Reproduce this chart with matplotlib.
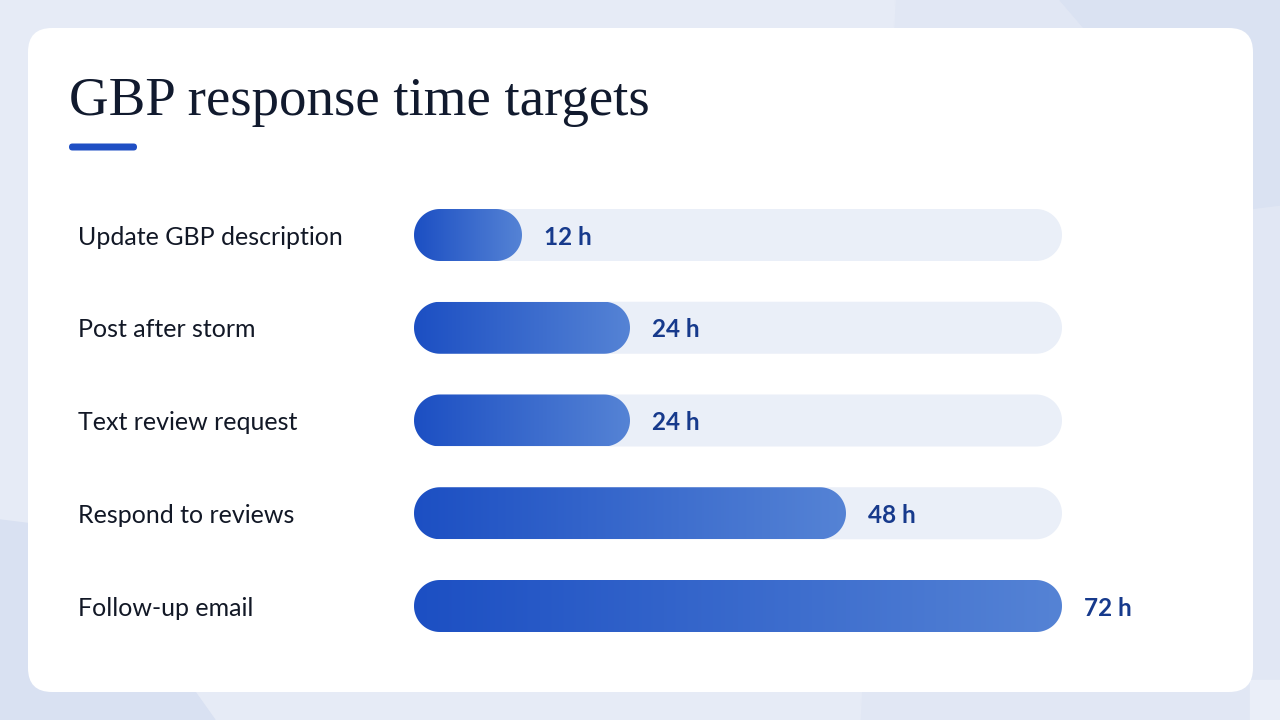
import matplotlib.pyplot as plt
import numpy as np
from matplotlib.patches import FancyBboxPatch, Polygon
from matplotlib.colors import LinearSegmentedColormap
from matplotlib.transforms import blended_transform_factory

# data
tasks = ["Update GBP description", "Post after storm", "Text review request",
         "Respond to reviews", "Follow-up email"]
hours = [12, 24, 24, 48, 72]
max_hours = 72
title = "GBP response time targets"


def pill(x_end, yc, h, **kw):
    # capsule from 0 to x_end, with true semicircle ends (axes use equal units)
    r = h / 2
    a = np.linspace(-np.pi / 2, np.pi / 2, 40)
    right = np.column_stack([x_end - r + r * np.cos(a), yc + r * np.sin(a)])
    left = np.column_stack([r - r * np.cos(a), yc - r * np.sin(a)])
    return Polygon(np.vstack([right, left]), closed=True, **kw)


W, H = 1280, 720
fig = plt.figure(figsize=(W / 100, H / 100), dpi=100)

# background + card, in pixel coords
bg = fig.add_axes([0, 0, 1, 1])
bg.set_xlim(0, W)
bg.set_ylim(H, 0)
bg.axis("off")
bg.add_patch(plt.Rectangle((0, 0), W, H, color="#e1e7f4", zorder=0))
bg.add_patch(Polygon([(0, 0), (895, 0), (860, 720), (0, 720)], closed=True,
                     color="#e6ebf6", zorder=0.5))
bg.add_patch(Polygon([(0, 520), (80, 530), (215, 720), (0, 720)], closed=True,
                     color="#d9e1f2", zorder=0.6))
bg.add_patch(Polygon([(1060, 0), (1280, 0), (1280, 205), (1240, 210)], closed=True,
                     color="#dae2f2", zorder=0.6))
bg.add_patch(Polygon([(1250, 680), (1280, 680), (1280, 720), (1250, 720)], closed=True,
                     color="#eaeef8", zorder=0.6))
bg.add_patch(FancyBboxPatch((28, 28), 1225, 664,
                            boxstyle="round,pad=0,rounding_size=24",
                            fc="white", ec="none", zorder=1))
bg.text(69, 115, title, fontsize=39.5, family="Liberation Serif",
        color="#111a2e", va="baseline", ha="left", zorder=2)
bg.add_patch(FancyBboxPatch((69, 143.5), 68, 7,
                            boxstyle="round,pad=0,rounding_size=3.5",
                            fc="#1f4fc4", ec="none", zorder=2))

# bar chart axes: x in hours, y in rows scaled so both axes share one unit size
x0, x1 = 414, 1062
row0, step = 235, 92.75
unit = (x1 - x0) / max_hours        # pixels per hour
row = step / unit                   # row spacing in hour units
top = row0 - step / 2
ax = fig.add_axes([x0 / W, 1 - (top + 5 * step) / H, (x1 - x0) / W, 5 * step / H])
ax.axis("off")

bar_h = 52 / unit

cmap = LinearSegmentedColormap.from_list("bar", ["#1c4fc3", "#5583d5"])
grad = np.linspace(0, 1, 256).reshape(1, -1)
trans = blended_transform_factory(fig.transFigure, ax.transData)

for i, (name, v) in enumerate(zip(tasks, hours)):
    yc = i * row
    ax.add_patch(pill(max_hours, yc, bar_h, fc="#eaeff8", ec="none", zorder=1))
    bar = pill(v, yc, bar_h, fc="none", ec="none", zorder=2)
    ax.add_patch(bar)
    im = ax.imshow(grad, cmap=cmap, aspect="auto", zorder=2,
                   extent=(0, v, yc + bar_h / 2, yc - bar_h / 2))
    im.set_clip_path(bar)
    ax.annotate(f"{v} h", xy=(v, yc), xytext=(15.5, -1.5), textcoords="offset points",
                fontsize=17.5, fontweight="bold", family="Lato", color="#173a8c",
                va="center", ha="left", zorder=3)
    ax.annotate(name, xy=(78 / W, yc), xycoords=trans, xytext=(0, -1.5),
                textcoords="offset points", fontsize=18, family="Lato",
                color="#121826", va="center", ha="left", annotation_clip=False)

ax.set_xlim(0, max_hours)
ax.set_ylim((len(tasks) - 0.5) * row, -0.5 * row)

fig.savefig("out.png", dpi=100)
